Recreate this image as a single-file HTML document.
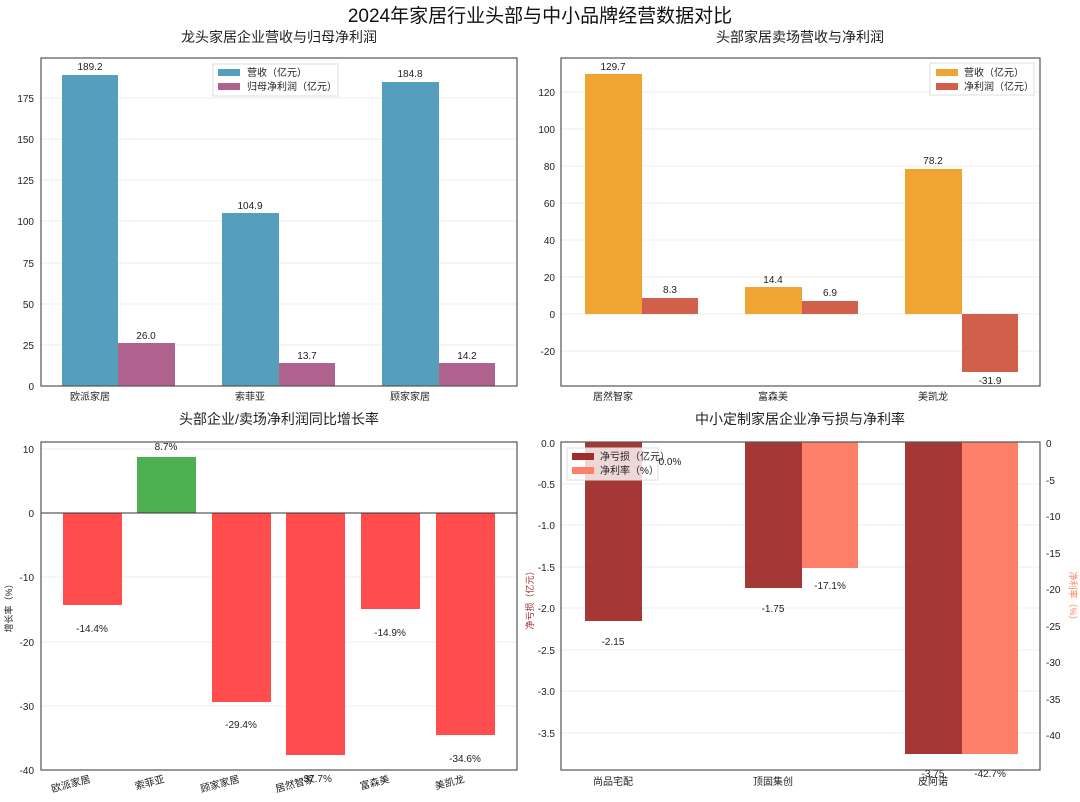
<!DOCTYPE html>
<html><head><meta charset="utf-8"><style>
body{margin:0;background:#fff}
svg{display:block;font-family:"Liberation Sans","Noto Sans CJK SC",sans-serif}
.t{font-size:10px;fill:#222}
.g{stroke:#ececec;stroke-width:1}
.ax{fill:none;stroke:#555;stroke-width:1.2}
.ttl{font-size:14px;fill:#222}
</style></head><body>
<svg width="1080" height="802" viewBox="0 0 1080 802">
<text x="540" y="22" text-anchor="middle" style="font-size:19px" fill="#111">2024年家居行业头部与中小品牌经营数据对比</text>
<text x="279" y="42" text-anchor="middle" class="ttl">龙头家居企业营收与归母净利润</text>
<text x="800" y="42" text-anchor="middle" class="ttl">头部家居卖场营收与净利润</text>
<text x="279" y="424" text-anchor="middle" class="ttl">头部企业/卖场净利润同比增长率</text>
<text x="800" y="424" text-anchor="middle" class="ttl">中小定制家居企业净亏损与净利率</text>

<!-- Panel 1 -->
<g>
<line class="g" x1="41" x2="517" y1="345" y2="345"/><line class="g" x1="41" x2="517" y1="304" y2="304"/><line class="g" x1="41" x2="517" y1="263" y2="263"/><line class="g" x1="41" x2="517" y1="221" y2="221"/><line class="g" x1="41" x2="517" y1="180" y2="180"/><line class="g" x1="41" x2="517" y1="139" y2="139"/><line class="g" x1="41" x2="517" y1="98" y2="98"/>
<rect x="62" y="75" width="56" height="311" fill="#559fbd"/><rect x="118" y="343" width="57" height="43" fill="#b0628f"/>
<rect x="222" y="213" width="57" height="173" fill="#559fbd"/><rect x="279" y="363" width="56" height="23" fill="#b0628f"/>
<rect x="382" y="82" width="57" height="304" fill="#559fbd"/><rect x="439" y="363" width="56" height="23" fill="#b0628f"/>
<g class="t" text-anchor="middle"><text x="90" y="70">189.2</text><text x="146" y="339">26.0</text><text x="250" y="209">104.9</text><text x="307" y="359">13.7</text><text x="410" y="77">184.8</text><text x="467" y="359">14.2</text>
<text x="90" y="400">欧派家居</text><text x="250" y="400">索菲亚</text><text x="410" y="400">顾家家居</text></g>
<rect class="ax" x="41" y="58" width="476" height="328"/>
<g class="t" text-anchor="end"><text x="34" y="390">0</text><text x="34" y="349">25</text><text x="34" y="308">50</text><text x="34" y="267">75</text><text x="34" y="225">100</text><text x="34" y="184">125</text><text x="34" y="143">150</text><text x="34" y="102">175</text></g>
<rect x="213" y="64" width="125" height="32" fill="#fff" stroke="#ddd"/>
<rect x="218" y="69" width="22" height="7" fill="#559fbd"/><text x="247" y="76" class="t">营收（亿元）</text>
<rect x="218" y="83" width="22" height="7" fill="#b0628f"/><text x="247" y="90" class="t">归母净利润（亿元）</text>
</g>

<!-- Panel 2 -->
<g>
<line class="g" x1="561" x2="1040" y1="351" y2="351"/><line class="g" x1="561" x2="1040" y1="314" y2="314"/><line class="g" x1="561" x2="1040" y1="277" y2="277"/><line class="g" x1="561" x2="1040" y1="240" y2="240"/><line class="g" x1="561" x2="1040" y1="203" y2="203"/><line class="g" x1="561" x2="1040" y1="166" y2="166"/><line class="g" x1="561" x2="1040" y1="129" y2="129"/><line class="g" x1="561" x2="1040" y1="92" y2="92"/>
<rect x="585" y="74" width="57" height="240" fill="#f0a432"/><rect x="642" y="298" width="56" height="16" fill="#d0604a"/>
<rect x="745" y="287" width="57" height="27" fill="#f0a432"/><rect x="802" y="301" width="56" height="13" fill="#d0604a"/>
<rect x="905" y="169" width="57" height="145" fill="#f0a432"/><rect x="962" y="314" width="56" height="58" fill="#d0604a"/>
<g class="t" text-anchor="middle"><text x="613" y="70">129.7</text><text x="670" y="293">8.3</text><text x="773" y="283">14.4</text><text x="830" y="296">6.9</text><text x="933" y="164">78.2</text><text x="990" y="384">-31.9</text>
<text x="613" y="400">居然智家</text><text x="773" y="400">富森美</text><text x="933" y="400">美凯龙</text></g>
<rect class="ax" x="561" y="58" width="479" height="328"/>
<g class="t" text-anchor="end"><text x="555" y="355">-20</text><text x="555" y="318">0</text><text x="555" y="281">20</text><text x="555" y="244">40</text><text x="555" y="207">60</text><text x="555" y="170">80</text><text x="555" y="133">100</text><text x="555" y="96">120</text></g>
<rect x="930" y="63" width="104" height="32" fill="#fff" stroke="#ddd"/>
<rect x="936" y="69" width="22" height="7" fill="#f0a432"/><text x="964" y="76" class="t">营收（亿元）</text>
<rect x="936" y="83" width="22" height="7" fill="#d0604a"/><text x="964" y="90" class="t">净利润（亿元）</text>
</g>

<!-- Panel 3 -->
<g>
<line class="g" x1="41" x2="517" y1="449" y2="449"/><line class="g" x1="41" x2="517" y1="577" y2="577"/><line class="g" x1="41" x2="517" y1="642" y2="642"/><line class="g" x1="41" x2="517" y1="706" y2="706"/>
<rect x="63" y="513" width="59" height="92" fill="#ff4d4d"/>
<rect x="137" y="457" width="59" height="56" fill="#4caf50"/>
<rect x="212" y="513" width="59" height="189" fill="#ff4d4d"/>
<rect x="286" y="513" width="59" height="242" fill="#ff4d4d"/>
<rect x="361" y="513" width="59" height="96" fill="#ff4d4d"/>
<rect x="436" y="513" width="59" height="222" fill="#ff4d4d"/>
<line x1="41" x2="517" y1="513" y2="513" stroke="#333" stroke-width="1"/>
<g class="t" text-anchor="middle"><text x="92" y="632">-14.4%</text><text x="166" y="450">8.7%</text><text x="241" y="728">-29.4%</text><text x="316" y="782">-37.7%</text><text x="390" y="636">-14.9%</text><text x="465" y="762">-34.6%</text></g>
<g class="t" text-anchor="end">
<text transform="translate(91,782) rotate(-15)">欧派家居</text><text transform="translate(165,782) rotate(-15)">索菲亚</text><text transform="translate(240,782) rotate(-15)">顾家家居</text><text transform="translate(315,782) rotate(-15)">居然智家</text><text transform="translate(390,782) rotate(-15)">富森美</text><text transform="translate(465,782) rotate(-15)">美凯龙</text></g>
<rect class="ax" x="41" y="442" width="476" height="328"/>
<g class="t" text-anchor="end"><text x="34" y="453">10</text><text x="34" y="517">0</text><text x="34" y="581">-10</text><text x="34" y="646">-20</text><text x="34" y="710">-30</text><text x="34" y="774">-40</text></g>
<text transform="translate(12,606) rotate(-90)" text-anchor="middle" class="t" style="font-size:9px">增长率（%）</text>
</g>

<!-- Panel 4 -->
<g>
<line class="g" x1="561" x2="1040" y1="484" y2="484"/><line class="g" x1="561" x2="1040" y1="525" y2="525"/><line class="g" x1="561" x2="1040" y1="567" y2="567"/><line class="g" x1="561" x2="1040" y1="608" y2="608"/><line class="g" x1="561" x2="1040" y1="650" y2="650"/><line class="g" x1="561" x2="1040" y1="691" y2="691"/><line class="g" x1="561" x2="1040" y1="733" y2="733"/>
<rect x="585" y="442" width="57" height="179" fill="#a02c2c" opacity="0.95"/>
<rect x="745" y="442" width="57" height="146" fill="#a02c2c" opacity="0.95"/><rect x="802" y="442" width="56" height="126" fill="#ff8068"/>
<rect x="905" y="442" width="57" height="312" fill="#a02c2c" opacity="0.95"/><rect x="962" y="442" width="56" height="312" fill="#ff8068"/>
<rect x="567" y="448" width="91" height="32" fill="#fff" fill-opacity="0.8" stroke="#ddd"/>
<rect x="572" y="453" width="22" height="7" fill="#a02c2c"/><text x="600" y="460" class="t">净亏损（亿元）</text>
<rect x="572" y="467" width="22" height="7" fill="#ff8068"/><text x="600" y="474" class="t">净利率（%）</text>
<g class="t" text-anchor="middle"><text x="613" y="645">-2.15</text><text x="670" y="465">0.0%</text><text x="773" y="612">-1.75</text><text x="830" y="589">-17.1%</text><text x="933" y="777">-3.75</text><text x="990" y="777">-42.7%</text>
<text x="613" y="785">尚品宅配</text><text x="773" y="785">顶固集创</text><text x="933" y="785">皮阿诺</text></g>
<rect class="ax" x="561" y="442" width="479" height="328"/>
<g class="t" text-anchor="end"><text x="555" y="447">0.0</text><text x="555" y="488">-0.5</text><text x="555" y="529">-1.0</text><text x="555" y="571">-1.5</text><text x="555" y="612">-2.0</text><text x="555" y="654">-2.5</text><text x="555" y="695">-3.0</text><text x="555" y="737">-3.5</text></g>
<g class="t"><text x="1046" y="447">0</text><text x="1046" y="484">-5</text><text x="1046" y="520">-10</text><text x="1046" y="557">-15</text><text x="1046" y="593">-20</text><text x="1046" y="630">-25</text><text x="1046" y="666">-30</text><text x="1046" y="703">-35</text><text x="1046" y="739">-40</text></g>
<text transform="translate(533,598) rotate(-90)" text-anchor="middle" style="font-size:9px" fill="#a02c2c">净亏损（亿元）</text>
<text transform="translate(1070,598) rotate(90)" text-anchor="middle" style="font-size:9px" fill="#ff8068">净利率（%）</text>
</g>
</svg>
</body></html>
